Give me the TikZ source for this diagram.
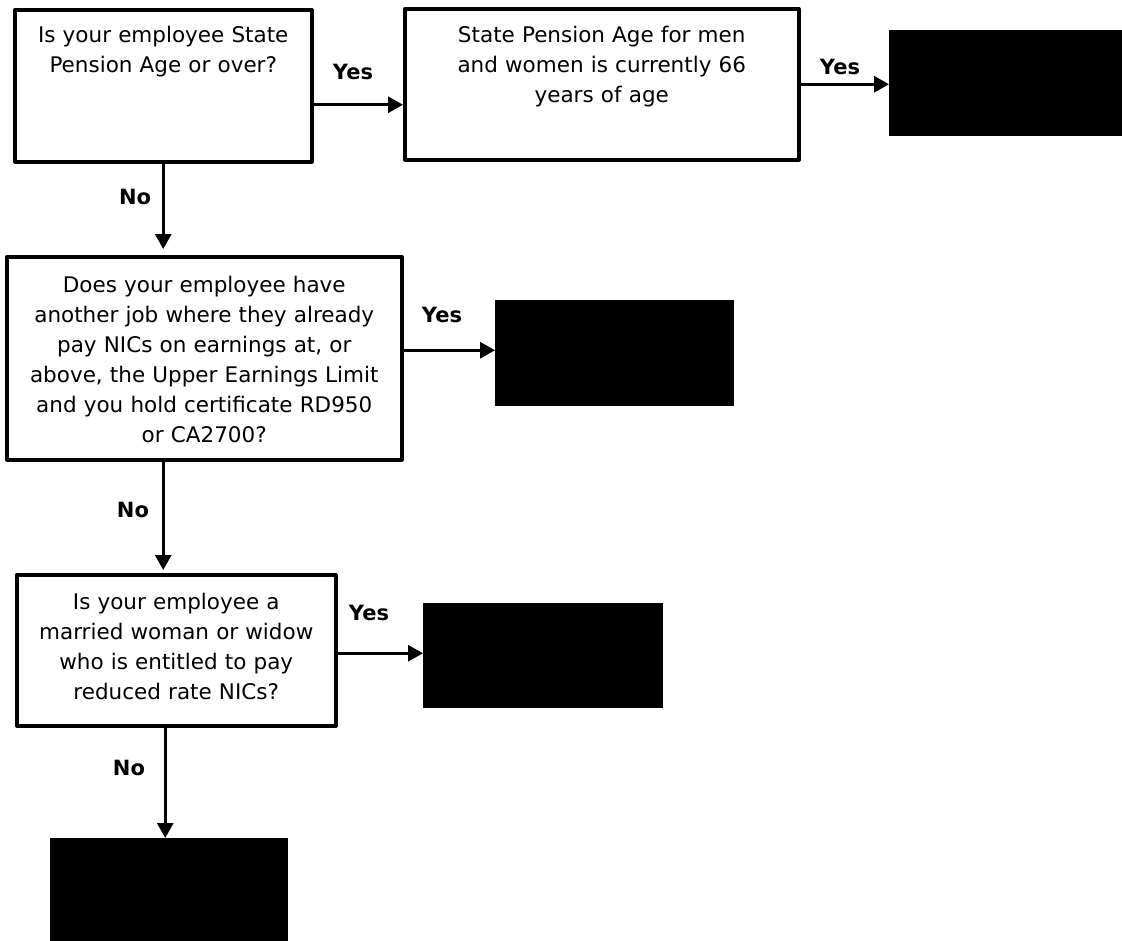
\documentclass[tikz,border=0pt]{standalone}
\usepackage{fontspec}
\setmainfont{DejaVu Sans}
\usepackage{tikz}
\usetikzlibrary{arrows.meta,positioning}

\begin{document}
\begin{tikzpicture}[x=1pt, y=-1pt,
  qbox/.style={draw, line width=3.5pt, line join=round, align=center, inner sep=0pt,
    font=\fontsize{21.5}{30}\selectfont, anchor=north west},
  endbox/.style={fill=black, draw=none, inner sep=0pt, anchor=north west},
  lbl/.style={font=\bfseries\fontsize{21}{25}\selectfont, inner sep=0pt},
  flow/.style={line width=3pt, -{Triangle[length=15pt,width=16pt]}}]
\useasboundingbox (0,0) rectangle (1122,940);
\node[qbox, text width=297pt, text height=33pt, text depth=119pt] (age) at (13,8)
  {Is your employee State\\Pension Age or over?};
\node[qbox, text width=394pt, text height=34pt, text depth=117pt] (spa) at (403,7)
  {State Pension Age for men\\and women is currently 66\\years of age};
\node[qbox, text width=395pt, text height=36pt, text depth=167pt] (job) at (5,255)
  {Does your employee have\\another job where they already\\pay NICs on earnings at, or\\above, the Upper Earnings Limit\\and you hold certificate RD950\\or CA2700?};
\node[qbox, text width=319pt, text height=35pt, text depth=116pt] (wid) at (15,573)
  {Is your employee a\\married woman or widow\\who is entitled to pay\\reduced rate NICs?};
\node[endbox, minimum width=233pt, minimum height=106pt] (endA) at (889,30) {};
\node[endbox, minimum width=239pt, minimum height=106pt] (endB) at (495,300) {};
\node[endbox, minimum width=240pt, minimum height=105pt] (endC) at (423,603) {};
\node[endbox, minimum width=238pt, minimum height=110pt] (endD) at (50,838) {};
\node[lbl] (yesA) at (353,72) {Yes};
\node[lbl] (yesB) at (840,67) {Yes};
\node[lbl] (yesC) at (442,315) {Yes};
\node[lbl] (yesD) at (369,613) {Yes};
\node[lbl] (noA) at (135,197) {No};
\node[lbl] (noB) at (133,510) {No};
\node[lbl] (noC) at (129,768) {No};
\draw[flow] ([yshift=-19pt]age.east) -- ([yshift=-19pt]age.east -| spa.west);
\draw[flow] (spa.east) -- (spa.east -| endA.west);
\draw[flow, shorten >=6pt] (age.south) -- (age.south |- job.north);
\draw[flow] ([yshift=8pt]job.east) -- ([yshift=8pt]job.east -| endB.west);
\draw[flow, shorten >=3pt] (job.south -| age.south) -- (wid.north -| age.south);
\draw[flow] ([yshift=-3pt]wid.east) -- ([yshift=-3pt]wid.east -| endC.west);
\draw[flow] ([xshift=2pt]wid.south -| age.south) -- ([xshift=2pt]endD.north -| age.south);
\end{tikzpicture}
\end{document}
